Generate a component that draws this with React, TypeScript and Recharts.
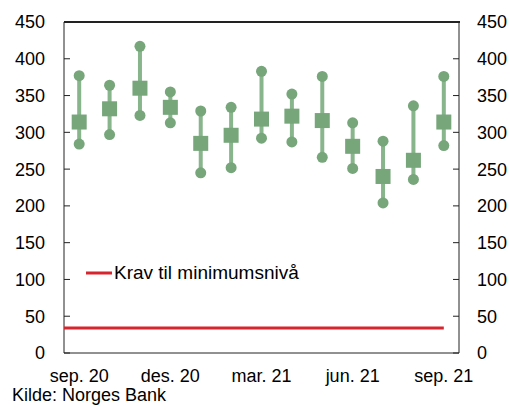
import React from "react";
import {
  ComposedChart,
  Scatter,
  ErrorBar,
  XAxis,
  YAxis,
  Legend,
} from "recharts";

// monthly observations, sep. 2020 – sep. 2021
const months = [
  "sep. 20", "okt. 20", "nov. 20", "des. 20", "jan. 21", "feb. 21", "mar. 21",
  "apr. 21", "mai 21", "jun. 21", "jul. 21", "aug. 21", "sep. 21",
];
const maxValues = [377, 364, 417, 355, 329, 334, 383, 352, 376, 313, 288, 336, 376];
const meanValues = [314, 332, 360, 334, 285, 296, 318, 322, 316, 281, 240, 262, 314];
const minValues = [284, 297, 323, 313, 245, 252, 292, 287, 266, 251, 204, 236, 282];

// minimum requirement, from start of sep. 20 to sep. 21
const kravLevel = 34;
const kravStart = -0.5;
const kravEnd = 12;

const xTicks = [0, 3, 6, 9, 12];
const yTicks = [0, 50, 100, 150, 200, 250, 300, 350, 400, 450];
const yMax = 450;

const GREEN = "#76a67a";
const GREEN_LINE = "#88b58b";
const RED = "#d7252f";
const AXIS = "#222";
const FONT = "'Liberation Sans', Arial, sans-serif";

const rangeData = months.map((m, i) => ({
  x: i,
  y: meanValues[i],
  err: [meanValues[i] - minValues[i], maxValues[i] - meanValues[i]],
}));
const maxData = months.map((m, i) => ({ x: i, y: maxValues[i] }));
const minData = months.map((m, i) => ({ x: i, y: minValues[i] }));
const meanData = months.map((m, i) => ({ x: i, y: meanValues[i] }));
const kravData = [
  { x: kravStart, y: kravLevel },
  { x: kravEnd, y: kravLevel },
];

const Dot = (props: any) => (
  <circle cx={props.cx} cy={props.cy} r={5.5} fill={GREEN} />
);
const Square = (props: any) => (
  <rect x={props.cx - 7.5} y={props.cy - 7.5} width={15} height={15} fill={GREEN} />
);
const Nothing = () => null;

const KravLegend = () => (
  <div style={{ display: "flex", alignItems: "center", fontFamily: FONT, fontSize: 19, color: "#000" }}>
    <svg width={26} height={4} style={{ marginRight: 2 }}>
      <line x1={0} y1={2} x2={26} y2={2} stroke={RED} strokeWidth={3} />
    </svg>
    <span>Krav til minimumsnivå</span>
  </div>
);

const tickStyle = { fontSize: 18, fill: "#000", fontFamily: FONT };

export default function App() {
  return (
    <div style={{ position: "absolute", left: 0, top: 0, width: 510, height: 410, background: "#fff" }}>
      <ComposedChart
        width={510}
        height={410}
        margin={{ top: 22, right: 6, bottom: 27, left: 14 }}
      >
        <XAxis
          xAxisId="bottom"
          dataKey="x"
          type="number"
          domain={[-0.5, 12.5]}
          ticks={xTicks}
          interval={0}
          tickFormatter={(v: number) => months[v]}
          tickLine={false}
          tickMargin={10}
          height={30}
          axisLine={{ stroke: AXIS }}
          tick={tickStyle}
        />
        <YAxis
          yAxisId="left"
          type="number"
          domain={[0, yMax]}
          ticks={yTicks}
          interval={0}
          width={50}
          tickSize={-6}
          tickMargin={25}
          axisLine={{ stroke: AXIS }}
          tickLine={{ stroke: AXIS }}
          tick={tickStyle}
        />
        <YAxis
          yAxisId="right"
          orientation="right"
          type="number"
          domain={[0, yMax]}
          ticks={yTicks}
          interval={0}
          width={45}
          tickSize={-6}
          tickMargin={24}
          axisLine={{ stroke: AXIS }}
          tickLine={{ stroke: AXIS }}
          tick={tickStyle}
        />
        <Legend
          layout="vertical"
          align="center"
          verticalAlign="middle"
          wrapperStyle={{ left: 86, top: 262, width: "auto" }}
          content={() => <KravLegend />}
        />
        <Scatter
          name="Krav til minimumsnivå"
          data={kravData}
          dataKey="y"
          xAxisId="bottom"
          yAxisId="right"
          line={{ stroke: RED, strokeWidth: 3 }}
          shape={Nothing}
          isAnimationActive={false}
        />
        <Scatter
          data={rangeData}
          dataKey="y"
          xAxisId="bottom"
          yAxisId="left"
          shape={Nothing}
          isAnimationActive={false}
        >
          <ErrorBar
            dataKey="err"
            direction="y"
            width={0}
            stroke={GREEN_LINE}
            strokeWidth={4}
            isAnimationActive={false}
          />
        </Scatter>
        <Scatter data={maxData} dataKey="y" xAxisId="bottom" yAxisId="left" shape={Dot} isAnimationActive={false} />
        <Scatter data={minData} dataKey="y" xAxisId="bottom" yAxisId="left" shape={Dot} isAnimationActive={false} />
        <Scatter data={meanData} dataKey="y" xAxisId="bottom" yAxisId="left" shape={Square} isAnimationActive={false} />
      </ComposedChart>
      {/* top edge of the plot frame */}
      <div
        style={{
          position: "absolute",
          left: 64,
          top: 21,
          width: 396,
          height: 2,
          background: AXIS,
          zIndex: 5,
        }}
      />
      <div
        style={{
          position: "absolute",
          left: 12,
          top: 385,
          fontFamily: FONT,
          fontSize: 18,
          color: "#000",
          whiteSpace: "nowrap",
        }}
      >
        Kilde: Norges Bank
      </div>
    </div>
  );
}
